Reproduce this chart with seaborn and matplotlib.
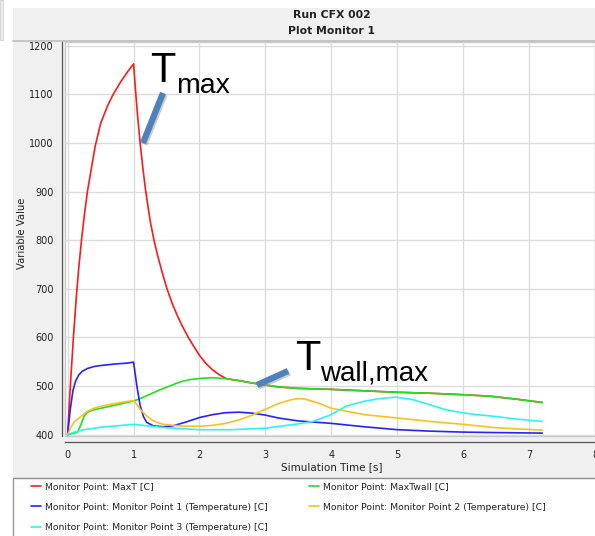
import numpy as np
import pandas as pd
import matplotlib
matplotlib.use("Agg")
import matplotlib.pyplot as plt
import seaborn as sns
from matplotlib.patches import Rectangle
from matplotlib.lines import Line2D
from matplotlib.ticker import MultipleLocator

# ---------------- data ----------------
series_names = [
    "Monitor Point: MaxT [C]",
    "Monitor Point: MaxTwall [C]",
    "Monitor Point: Monitor Point 1 (Temperature) [C]",
    "Monitor Point: Monitor Point 2 (Temperature) [C]",
    "Monitor Point: Monitor Point 3 (Temperature) [C]",
]
series_colors = ["#ff1a1a", "#22e022", "#2424ff", "#ffbf1f", "#2cf4f4"]

t_maxT = [0, 0.02, 0.05, 0.09, 0.13, 0.17, 0.21, 0.25, 0.30, 0.36, 0.42, 0.50, 0.60, 0.69,
          0.80, 0.90, 1.00, 1.03, 1.06, 1.10, 1.14, 1.18, 1.22, 1.26, 1.31, 1.37, 1.43,
          1.50, 1.58, 1.66, 1.74, 1.83, 1.92, 2.00, 2.10, 2.20, 2.30, 2.41, 2.50,
          2.60, 2.80, 3.00, 3.20, 3.50, 4.00, 4.50, 5.00, 5.50, 6.00, 6.40, 6.80, 7.20]
v_maxT = [400, 450, 520, 605, 680, 745, 800, 848, 900, 948, 995, 1040, 1075, 1100,
          1125, 1145, 1163, 1108, 1058, 1000, 950, 905, 868, 834, 800, 766, 736,
          703, 672, 646, 623, 600, 580, 563, 546, 533, 523, 515, 513,
          511, 506, 502, 498, 495, 493, 490, 487, 485, 482, 479, 473, 466]

t_maxTwall = [0, 0.08, 0.15, 0.20, 0.25, 0.30, 0.40, 0.50, 0.64, 0.80, 1.00, 1.10, 1.20,
              1.40, 1.55, 1.70, 1.85, 2.05, 2.20, 2.41, 2.60, 2.80, 3.00, 3.20, 3.50,
              4.00, 4.50, 5.00, 5.50, 6.00, 6.40, 6.80, 7.20]
v_maxTwall = [400, 402, 405, 420, 438, 446, 451, 454, 458, 463, 469, 474, 480,
              492, 500, 508, 513, 516, 517, 515, 511, 506, 502, 498, 495,
              493, 490, 487, 485, 482, 479, 473, 466]

t_mp1 = [0, 0.04, 0.08, 0.12, 0.17, 0.22, 0.30, 0.40, 0.50, 0.70, 0.90, 1.00, 1.05, 1.10,
         1.15, 1.20, 1.30, 1.45, 1.60, 1.80, 2.00, 2.20, 2.40, 2.60, 2.80, 3.00, 3.20,
         3.50, 4.00, 4.50, 5.00, 5.50, 6.00, 6.50, 7.20]
v_mp1 = [400, 452, 490, 510, 523, 530, 536, 540, 542, 545, 547, 549, 500, 460,
         437, 425, 418, 416, 418, 426, 435, 441, 445, 446, 444, 440, 434,
         428, 423, 416, 410, 407, 405, 404, 403]

t_mp2 = [0, 0.05, 0.10, 0.20, 0.30, 0.40, 0.50, 0.64, 0.80, 1.00, 1.05, 1.10, 1.20, 1.30,
         1.45, 1.60, 1.80, 2.00, 2.20, 2.40, 2.60, 2.80, 3.00, 3.20, 3.40, 3.50, 3.60,
         3.80, 4.00, 4.50, 5.00, 5.50, 6.00, 6.50, 7.20]
v_mp2 = [400, 415, 426, 437, 448, 454, 458, 462, 466, 470, 462, 452, 438, 428,
         421, 419, 417, 417, 419, 423, 430, 440, 452, 464, 472, 474, 473,
         465, 454, 441, 434, 427, 421, 414, 409]

t_mp3 = [0, 0.10, 0.25, 0.50, 0.75, 1.00, 1.20, 1.50, 2.00, 2.50, 3.00, 3.22, 3.50, 3.72,
         4.00, 4.22, 4.48, 4.73, 4.98, 5.23, 5.48, 5.74, 5.98, 6.20, 6.44, 6.80, 7.20]
v_mp3 = [400, 405, 410, 415, 418, 421, 418, 414, 410, 410, 413, 417, 422, 427,
         441, 458, 468, 474, 477, 472, 462, 451, 445, 441, 438, 432, 427]

x_ticks = [0, 1, 2, 3, 4, 5, 6, 7, 8]
y_ticks = [400, 500, 600, 700, 800, 900, 1000, 1100, 1200]
title_lines = ["Run CFX 002", "Plot Monitor 1"]
x_label = "Simulation Time [s]"
y_label = "Variable Value"

# ---------------- build table ----------------
frames = []
for name, t, v in zip(series_names,
                      [t_maxT, t_maxTwall, t_mp1, t_mp2, t_mp3],
                      [v_maxT, v_maxTwall, v_mp1, v_mp2, v_mp3]):
    frames.append(pd.DataFrame({"t": t, "v": v, "series": name}))
df = pd.concat(frames, ignore_index=True)

# ---------------- figure ----------------
sns.set_style("white")
plt.rcParams["font.family"] = ["DejaVu Sans"]

W, H = 595, 536
fig = plt.figure(figsize=(W / 100, H / 100), dpi=100, facecolor="white")


def fx(px):
    return px / W


def fy(py):
    return 1 - py / H


# window-like grey panel
fig.add_artist(Rectangle((fx(13), fy(478)), fx(595) - fx(13), fy(8) - fy(478),
                         transform=fig.transFigure, facecolor="#f0f0f0",
                         edgecolor="none", zorder=-5))
fig.add_artist(Rectangle((0, fy(40)), fx(3), fy(0) - fy(40), transform=fig.transFigure,
                         facecolor="#ececec", edgecolor="#d0d0d0", lw=0.6, zorder=-5))
fig.add_artist(Line2D([fx(13), 1], [fy(40.5), fy(40.5)], color="#c4c4c4", lw=1.4))
fig.add_artist(Line2D([fx(13), 1], [fy(478), fy(478)], color="#8c8c8c", lw=1.0))
fig.add_artist(Line2D([fx(13), fx(13)], [fy(478), 0], color="#9a9a9a", lw=1.0))

ax = fig.add_axes([fx(65), fy(436), 1 - fx(65), fy(42) - fy(436)])
ax.set_facecolor("white")

pal = dict(zip(series_names, series_colors))
sns.lineplot(data=df, x="t", y="v", hue="series", hue_order=series_names,
             palette=pal, estimator=None, sort=True, linewidth=1.2,
             ax=ax, legend=False)

ax.set_xlim(-0.04, 8.0)
ax.set_ylim(397, 1208)
ax.set_xticks(x_ticks)
ax.set_yticks(y_ticks)
ax.xaxis.set_minor_locator(MultipleLocator(0.2))
ax.yaxis.set_minor_locator(MultipleLocator(20))
ax.grid(True, which="major", color="#dcdcdc", lw=1.0)
ax.set_axisbelow(True)

for s in ["top", "right"]:
    ax.spines[s].set_visible(False)
ax.spines["left"].set_position(("outward", 2.4))
ax.spines["bottom"].set_position(("outward", 4.1))
for s in ["left", "bottom"]:
    ax.spines[s].set_color("#555555")
    ax.spines[s].set_linewidth(0.9)

ax.tick_params(axis="both", which="major", direction="out", length=3.2, width=0.8,
               color="#555555", labelsize=7, labelcolor="#222222", pad=2.5)
ax.tick_params(axis="both", which="minor", direction="out", length=1.6, width=0.7,
               color="#555555")

# light frame around the plot area
ax.add_patch(Rectangle((0, 0), 1, 1, transform=ax.transAxes, fill=False,
                       edgecolor="#c8c8c8", lw=1.0, clip_on=False, zorder=0.5))

ax.set_xlabel(x_label, fontsize=7.5, color="#222222")
ax.set_ylabel(y_label, fontsize=7.2, color="#222222")
ax.xaxis.set_label_coords((332 - 65) / 530, (436 - 467) / 394)
ax.xaxis.label.set_va("center")
ax.yaxis.set_label_coords((22 - 65) / 530, (436 - 233) / 394)
ax.yaxis.label.set_va("center")

# title
fig.text(fx(332), fy(15.5), title_lines[0], ha="center", va="center",
         fontsize=7.8, fontweight="bold", color="#222222")
fig.text(fx(332), fy(31), title_lines[1], ha="center", va="center",
         fontsize=7.8, fontweight="bold", color="#222222")

# legend (two columns, like the CFX legend)
lines = ax.get_lines()
leg_kw = dict(frameon=False, fontsize=6.7, handlelength=1.05, handletextpad=0.45,
              labelspacing=1.25, borderpad=0, borderaxespad=0, loc="upper left",
              labelcolor="#222222")
leg1 = fig.legend([lines[0], lines[2], lines[4]],
                  [series_names[0], series_names[2], series_names[4]],
                  bbox_to_anchor=(fx(31), fy(482)), **leg_kw)
leg2 = fig.legend([lines[1], lines[3]], [series_names[1], series_names[3]],
                  bbox_to_anchor=(fx(309), fy(482)), **leg_kw)

# annotations
ann_color = "#4f81bd"
for (x0, y0, x1, y1) in [(143, 143, 163, 93), (257, 385, 288, 371)]:
    fig.add_artist(Line2D([fx(x0 + 1.5), fx(x1 + 1.5)], [fy(y0 + 1.5), fy(y1 + 1.5)],
                          color="#9a9a9a", alpha=0.5, lw=4.5, solid_capstyle="butt"))
    fig.add_artist(Line2D([fx(x0), fx(x1)], [fy(y0), fy(y1)], color=ann_color,
                          lw=4.5, solid_capstyle="butt"))

big = dict(family=["Liberation Sans", "DejaVu Sans"], color="black", va="baseline", ha="left")
fig.text(fx(150), fy(82), "T", fontsize=30, **big)
fig.text(fx(176), fy(93), "max", fontsize=20.5, **big)
fig.text(fx(295), fy(370), "T", fontsize=30, **big)
fig.text(fx(320), fy(380), "wall,max", fontsize=20, **big)

fig.savefig("out.png", dpi=100, facecolor="white")
